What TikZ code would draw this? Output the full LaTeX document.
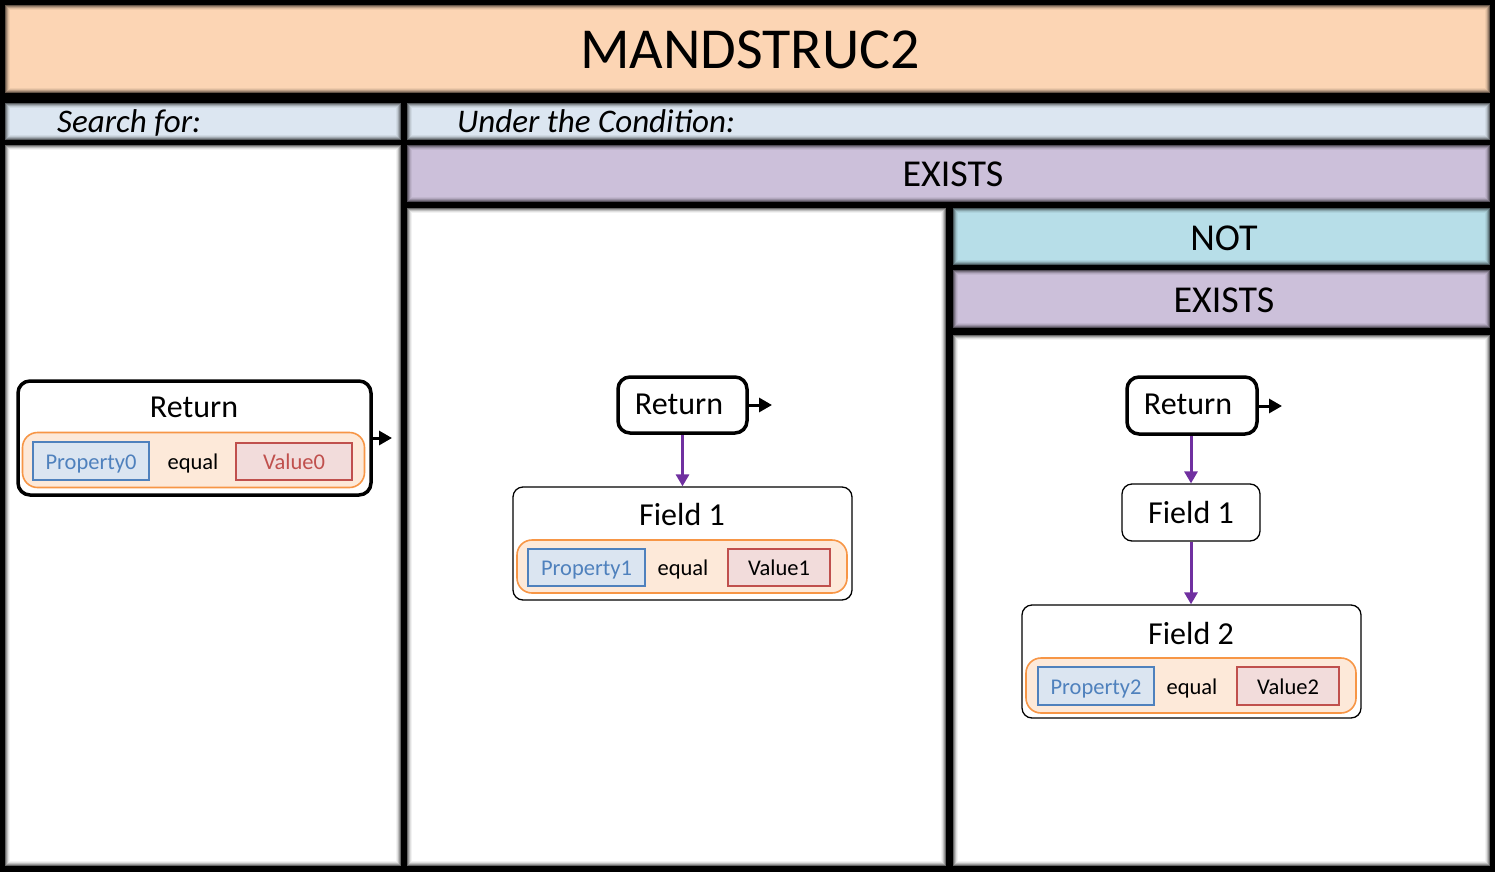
\documentclass[tikz,border=0pt]{standalone}
\usepackage{fontspec}
\setmainfont{Carlito}
\usetikzlibrary{arrows.meta}
\definecolor{titleF}{HTML}{FCD5B4}
\definecolor{barF}{HTML}{DCE6F1}
\definecolor{existsF}{HTML}{CCC0DA}
\definecolor{notF}{HTML}{B7DEE8}
\definecolor{orangeS}{HTML}{F79646}
\definecolor{orangeF}{HTML}{FDE9D9}
\definecolor{blueS}{HTML}{4F81BD}
\definecolor{blueF}{HTML}{DBE5F1}
\definecolor{redS}{HTML}{C0504D}
\definecolor{redF}{HTML}{F2DCDB}
\definecolor{purp}{HTML}{7030A0}
\tikzset{
  panel/.style={draw=none, inner sep=0pt, outer sep=0pt, anchor=north west,
    path picture={
      \foreach \k/\o in {0.5/0.6,1.5/0.4,2.5/0.25,3.5/0.12,4.5/0.05}{
        \draw[black,opacity=\o,line width=1pt]
          ([shift={(\k pt,-\k pt)}]path picture bounding box.north west) rectangle
          ([shift={(-\k pt,\k pt)}]path picture bounding box.south east);
      }}},
  bigtxt/.style={font=\fontsize{38}{42}\selectfont},
  midtxt/.style={font=\fontsize{32}{36}\selectfont, inner sep=0pt},
  ittxt/.style={font=\fontsize{33}{38}\selectfont\itshape, anchor=base west, inner sep=0pt},
  smfont/.style={font=\fontsize{22.5}{26}\selectfont, text height=16pt, text depth=0pt},
  smtxt/.style={smfont, inner sep=0pt},
  retbox/.style={draw=black, line width=3.5pt, rounded corners=12pt, fill=white, inner sep=0pt},
  fieldbox/.style={draw=black, line width=1.3pt, rounded corners=10pt, fill=white, inner sep=0pt},
  condbox/.style={draw=orangeS, fill=orangeF, line width=1.6pt, rounded corners=15pt, inner sep=0pt},
  propbox/.style={draw=blueS, fill=blueF, line width=1.6pt, text=blueS, inner sep=0pt, smfont},
  valbox/.style={draw=redS, fill=redF, line width=1.6pt, inner sep=0pt, smfont},
  outarrow/.style={draw=black, line width=3pt, -{Triangle[length=13pt,width=14pt]}},
  linkarrow/.style={draw=purp, line width=3pt, -{Triangle[length=12pt,width=13pt]}}
}
\begin{document}
\begin{tikzpicture}[x=1pt,y=-1pt]
\useasboundingbox (0,0) rectangle (1495,872);
\fill[black] (0,0) rectangle (1495,872);
% panels
\node[panel, fill=titleF, minimum width=1485pt, minimum height=88pt] (title) at (5,5) {};
\node[font=\fontsize{58}{68}\selectfont] (titletxt) at (750,50) {MANDSTRUC2};
\node[panel, fill=barF, minimum width=396pt, minimum height=37pt] (sbar) at (5,103) {};
\node[ittxt] (stxt) at (57,132) {Search for:};
\node[panel, fill=white, minimum width=396pt, minimum height=721pt] (lpanel) at (5,145) {};
\node[panel, fill=barF, minimum width=1083pt, minimum height=37pt] (ubar) at (407,103) {};
\node[ittxt] (utxt) at (457,132) {Under the Condition:};
\node[panel, fill=existsF, minimum width=1083pt, minimum height=57pt] (ex1) at (407,145) {};
\node[bigtxt] (ex1txt) at (953,174) {EXISTS};
\node[panel, fill=white, minimum width=539pt, minimum height=658pt] (mpanel) at (407,208) {};
\node[panel, fill=notF, minimum width=537pt, minimum height=57pt] (notb) at (953,208) {};
\node[bigtxt] (nottxt) at (1224,238) {NOT};
\node[panel, fill=existsF, minimum width=537pt, minimum height=58pt] (ex2) at (953,270) {};
\node[bigtxt] (ex2txt) at (1224,300) {EXISTS};
\node[panel, fill=white, minimum width=537pt, minimum height=531pt] (rpanel) at (953,335) {};
% left return
\node[retbox, minimum width=353pt, minimum height=114pt] (r0) at (194.5,438) {};
\node[midtxt] (r0lbl) at (194,407) {Return};
\node[condbox, minimum width=342pt, minimum height=55pt] (c0) at (193.5,460) {};
\node[propbox, minimum width=116pt, minimum height=38pt] (p0) at (91,461) {Property0};
\node[smtxt] (e0) at (193,461) {equal};
\node[valbox, minimum width=116pt, minimum height=37pt, text=redS] (v0) at (294,461.5) {Value0};
\coordinate (r0end) at (392,438);
\draw[outarrow] (r0.east |- r0end) -- (r0end);
% middle
\node[retbox, minimum width=129pt, minimum height=56pt] (r1) at (682.5,405) {};
\node[midtxt] (r1lbl) at (679,404) {Return};
\coordinate (r1end) at (772,405);
\draw[outarrow] (r1.east |- r1end) -- (r1end);
\node[fieldbox, minimum width=339pt, minimum height=113pt] (f1m) at (682.5,543.5) {};
\node[midtxt] (f1mlbl) at (682,514) {Field 1};
\node[condbox, minimum width=330pt, minimum height=53pt] (c1) at (682,566.5) {};
\node[propbox, minimum width=117pt, minimum height=37pt] (p1) at (586.5,567.5) {Property1};
\node[smtxt] (e1) at (683,567.5) {equal};
\node[valbox, minimum width=102pt, minimum height=37pt] (v1) at (779,567.5) {Value1};
\draw[linkarrow] (r1.south -| f1m.north) -- (f1m.north);
% right
\node[retbox, minimum width=130pt, minimum height=57pt] (r2) at (1192,405.5) {};
\node[midtxt] (r2lbl) at (1188,404) {Return};
\coordinate (r2end) at (1282,406);
\draw[outarrow] (r2.east |- r2end) -- (r2end);
\node[fieldbox, minimum width=138pt, minimum height=57pt] (f1r) at (1191,512.5) {};
\node[midtxt] (f1rlbl) at (1191,512) {Field 1};
\node[fieldbox, minimum width=339pt, minimum height=113pt] (f2r) at (1191.5,661.5) {};
\node[midtxt] (f2rlbl) at (1191,633) {Field 2};
\node[condbox, minimum width=330pt, minimum height=55pt] (c2) at (1191,685.5) {};
\node[propbox, minimum width=116pt, minimum height=38pt] (p2) at (1096,686) {Property2};
\node[smtxt] (e2) at (1192,686) {equal};
\node[valbox, minimum width=102pt, minimum height=38pt] (v2) at (1288,686) {Value2};
\draw[linkarrow] (r2.south -| f1r.north) -- (f1r.north);
\draw[linkarrow] (f1r.south) -- (f2r.north -| f1r.south);
\end{tikzpicture}
\end{document}
